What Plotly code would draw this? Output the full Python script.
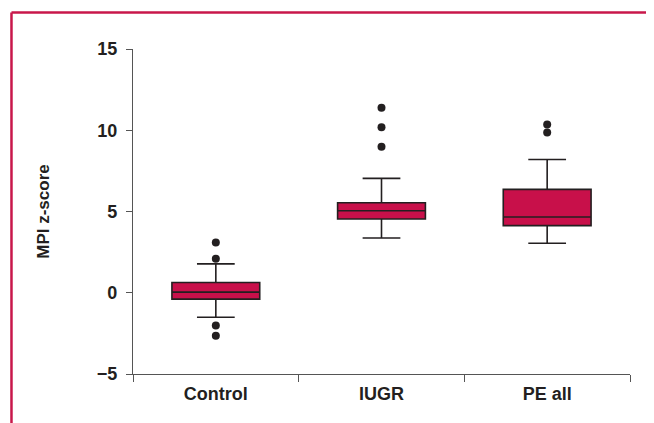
import plotly.graph_objects as go

categories = ["Control", "IUGR", "PE all"]
q1 = [-0.39, 4.54, 4.13]
median = [0.04, 5.05, 4.66]
q3 = [0.63, 5.54, 6.36]
lower_whisker = [-1.51, 3.37, 3.05]
upper_whisker = [1.78, 7.04, 8.20]

outlier_cats = ["Control", "Control", "Control", "Control", "IUGR", "IUGR", "IUGR", "PE all", "PE all"]
outlier_vals = [3.09, 2.10, -2.02, -2.64, 11.39, 10.18, 8.98, 10.35, 9.86]

y_ticks = [-5, 0, 5, 10, 15]
y_tick_text = ["\u22125", "0", "5", "10", "15"]

box_fill = "#C8104A"
dark = "#231F20"
frame_red = "#C8174A"
font_family = "Liberation Sans, Arial, sans-serif"

fig = go.Figure()
fig.add_trace(go.Box(
    x=categories,
    q1=q1, median=median, q3=q3,
    lowerfence=lower_whisker, upperfence=upper_whisker,
    fillcolor=box_fill,
    line=dict(color=dark, width=1.6),
    width=0.53,
    whiskerwidth=0.43,
    boxpoints=False,
    showlegend=False,
    hoverinfo="skip",
))
fig.add_trace(go.Scatter(
    x=outlier_cats, y=outlier_vals, mode="markers",
    marker=dict(color=dark, size=8),
    showlegend=False, hoverinfo="skip",
))

fig.update_layout(
    width=646, height=415,
    margin=dict(l=125, r=24, t=41, b=49),
    paper_bgcolor="white", plot_bgcolor="white",
    font=dict(family=font_family, color=dark, size=17),
    xaxis=dict(
        type="category", categoryorder="array", categoryarray=categories,
        range=[-0.5, 2.5],
        showline=True, linecolor="#555555", linewidth=1.2,
        ticks="outside", tickson="boundaries", ticklen=7, tickcolor="#555555", tickwidth=1,
        ticklabelstandoff=3,
        showgrid=False, zeroline=False,
        tickfont=dict(family=font_family, size=18, color=dark, weight="bold"),
    ),
    yaxis=dict(
        range=[-5, 15],
        tickvals=y_ticks, ticktext=y_tick_text,
        showline=True, linecolor="#555555", linewidth=1.2,
        ticks="outside", ticklen=6, tickcolor="#555555", tickwidth=1,
        ticklabelstandoff=5,
        showgrid=False, zeroline=False,
        tickfont=dict(family=font_family, size=18, color=dark, weight="bold"),
        title=dict(text="MPI z-score", standoff=42,
                   font=dict(family=font_family, size=17, color=dark, weight="bold")),
    ),
    shapes=[
        dict(type="line", xref="paper", yref="paper",
             x0=-0.2445, x1=1.1, y0=1.1123, y1=1.1123,
             line=dict(color=frame_red, width=2.5)),
        dict(type="line", xref="paper", yref="paper",
             x0=-0.2445, x1=-0.2445, y0=1.1123, y1=-0.2,
             line=dict(color=frame_red, width=2.5)),
    ],
)

fig.write_html("out.html")
